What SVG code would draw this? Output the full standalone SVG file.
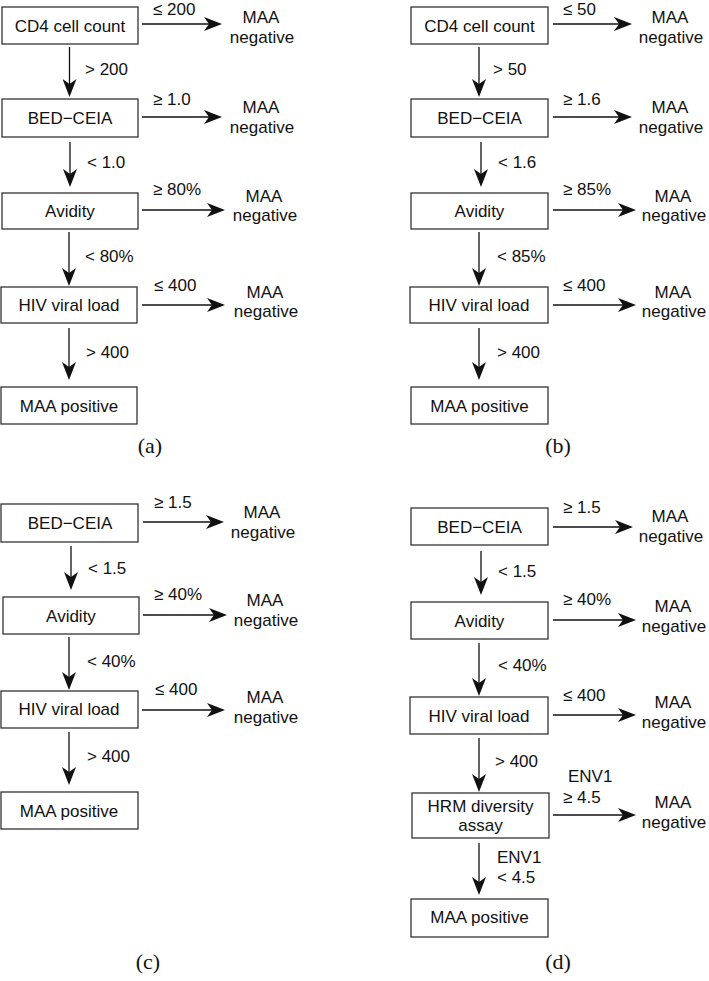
<svg xmlns="http://www.w3.org/2000/svg" width="709" height="981" viewBox="0 0 709 981">
<style>
.box{fill:#fff;stroke:#333;stroke-width:1.3}
.t{font-family:"Liberation Sans",Arial,sans-serif;font-size:17px;fill:#111}
.c{text-anchor:middle}
.cap{font-family:"Liberation Serif","DejaVu Serif",serif;font-size:22px;fill:#111;text-anchor:middle}
.edge{stroke:#111;stroke-width:1.3;fill:none;marker-end:url(#ah)}
</style>
<defs>
<marker id="ah" viewBox="0 0 18 14" refX="6" refY="7" markerWidth="18" markerHeight="14" markerUnits="userSpaceOnUse" orient="auto">
<path d="M18,7 L0,0 L5,7 L0,14 Z" fill="#111"/>
</marker>
</defs>
<rect width="709" height="981" fill="#fff"/>

<g id="connectors">
<!-- (a) -->
<line class="edge" x1="142" y1="24" x2="210" y2="24"/>
<line class="edge" x1="69.5" y1="47" x2="69.5" y2="85"/>
<line class="edge" x1="142" y1="117" x2="210" y2="117"/>
<line class="edge" x1="70" y1="142" x2="70" y2="175"/>
<line class="edge" x1="142" y1="210" x2="213" y2="210"/>
<line class="edge" x1="69" y1="232" x2="69" y2="274"/>
<line class="edge" x1="142" y1="305" x2="213" y2="305"/>
<line class="edge" x1="69" y1="328" x2="69" y2="368"/>
<!-- (b) -->
<line class="edge" x1="553" y1="24" x2="620" y2="24"/>
<line class="edge" x1="479" y1="47" x2="479" y2="85"/>
<line class="edge" x1="553" y1="117" x2="620" y2="117"/>
<line class="edge" x1="481" y1="142" x2="481" y2="175"/>
<line class="edge" x1="553" y1="210" x2="624" y2="210"/>
<line class="edge" x1="479" y1="232" x2="479" y2="274"/>
<line class="edge" x1="553" y1="305" x2="624" y2="305"/>
<line class="edge" x1="479" y1="328" x2="479" y2="368"/>
<!-- (c) -->
<line class="edge" x1="143" y1="522" x2="212" y2="522"/>
<line class="edge" x1="71" y1="546" x2="71" y2="578"/>
<line class="edge" x1="143" y1="615" x2="215" y2="615"/>
<line class="edge" x1="69" y1="637" x2="69" y2="678"/>
<line class="edge" x1="142" y1="710" x2="213" y2="710"/>
<line class="edge" x1="69" y1="732" x2="69" y2="773"/>
<!-- (d) -->
<line class="edge" x1="553" y1="527" x2="621" y2="527"/>
<line class="edge" x1="481" y1="551" x2="481" y2="583"/>
<line class="edge" x1="553" y1="620" x2="624" y2="620"/>
<line class="edge" x1="479" y1="643" x2="479" y2="684"/>
<line class="edge" x1="553" y1="715" x2="624" y2="715"/>
<line class="edge" x1="479" y1="738" x2="479" y2="780"/>
<line class="edge" x1="553" y1="815" x2="624" y2="815"/>
<line class="edge" x1="479" y1="843" x2="479" y2="883"/>
</g>

<g id="edge-labels" class="t">
<text x="153" y="15">≤ 200</text>
<text x="85" y="75">&gt; 200</text>
<text x="153" y="105">≥ 1.0</text>
<text x="87" y="168">&lt; 1.0</text>
<text x="153" y="195">≥ 80%</text>
<text x="85" y="262">&lt; 80%</text>
<text x="154" y="291">≤ 400</text>
<text x="86" y="358">&gt; 400</text>

<text x="563" y="15">≤ 50</text>
<text x="493" y="75">&gt; 50</text>
<text x="563" y="105">≥ 1.6</text>
<text x="498" y="168">&lt; 1.6</text>
<text x="563" y="195">≥ 85%</text>
<text x="497" y="262">&lt; 85%</text>
<text x="563" y="291">≤ 400</text>
<text x="497" y="358">&gt; 400</text>

<text x="154" y="508">≥ 1.5</text>
<text x="88" y="574">&lt; 1.5</text>
<text x="154" y="600">≥ 40%</text>
<text x="87" y="667">&lt; 40%</text>
<text x="155" y="695">≤ 400</text>
<text x="87" y="762">&gt; 400</text>

<text x="563" y="513">≥ 1.5</text>
<text x="498" y="577">&lt; 1.5</text>
<text x="563" y="605">≥ 40%</text>
<text x="498" y="671">&lt; 40%</text>
<text x="563" y="701">≤ 400</text>
<text x="495" y="767">&gt; 400</text>
<text x="568" y="782">ENV1</text>
<text x="563" y="803">≥ 4.5</text>
<text x="497" y="863">ENV1</text>
<text x="497" y="883">&lt; 4.5</text>
</g>

<!-- Panel (a) -->
<g id="a-cd4"><rect class="box" x="2" y="7" width="136" height="37"/><text class="t c" x="70" y="32">CD4 cell count</text></g>
<g id="a-neg1"><text class="t c" x="261" y="23">MAA</text><text class="t c" x="262" y="43">negative</text></g>
<g id="a-bed"><rect class="box" x="2" y="99" width="136" height="38"/><text class="t c" x="70" y="124">BED−CEIA</text></g>
<g id="a-neg2"><text class="t c" x="261" y="113">MAA</text><text class="t c" x="262" y="133">negative</text></g>
<g id="a-avid"><rect class="box" x="2" y="193" width="136" height="36"/><text class="t c" x="70" y="217">Avidity</text></g>
<g id="a-neg3"><text class="t c" x="264" y="202">MAA</text><text class="t c" x="265" y="221">negative</text></g>
<g id="a-hiv"><rect class="box" x="1" y="287" width="136" height="36"/><text class="t c" x="69" y="311">HIV viral load</text></g>
<g id="a-neg4"><text class="t c" x="265" y="298">MAA</text><text class="t c" x="266" y="317">negative</text></g>
<g id="a-pos"><rect class="box" x="1" y="387" width="136" height="37"/><text class="t c" x="69" y="412">MAA positive</text></g>
<text class="cap" x="150" y="453">(a)</text>

<!-- Panel (b) -->
<g id="b-cd4"><rect class="box" x="411" y="7" width="137" height="37"/><text class="t c" x="479.5" y="32">CD4 cell count</text></g>
<g id="b-neg1"><text class="t c" x="670" y="23">MAA</text><text class="t c" x="671" y="43">negative</text></g>
<g id="b-bed"><rect class="box" x="411" y="99" width="137" height="38"/><text class="t c" x="479.5" y="124">BED−CEIA</text></g>
<g id="b-neg2"><text class="t c" x="670" y="113">MAA</text><text class="t c" x="671" y="133">negative</text></g>
<g id="b-avid"><rect class="box" x="411" y="193" width="137" height="36"/><text class="t c" x="479.5" y="217">Avidity</text></g>
<g id="b-neg3"><text class="t c" x="673" y="202">MAA</text><text class="t c" x="674" y="221">negative</text></g>
<g id="b-hiv"><rect class="box" x="410" y="287" width="138" height="36"/><text class="t c" x="479" y="311">HIV viral load</text></g>
<g id="b-neg4"><text class="t c" x="673" y="298">MAA</text><text class="t c" x="674" y="317">negative</text></g>
<g id="b-pos"><rect class="box" x="411" y="387" width="137" height="37"/><text class="t c" x="479.5" y="412">MAA positive</text></g>
<text class="cap" x="558" y="453">(b)</text>

<!-- Panel (c) -->
<g id="c-bed"><rect class="box" x="1" y="504" width="137" height="38"/><text class="t c" x="70" y="529">BED−CEIA</text></g>
<g id="c-neg1"><text class="t c" x="262" y="518">MAA</text><text class="t c" x="263" y="538">negative</text></g>
<g id="c-avid"><rect class="box" x="3" y="597" width="136" height="37"/><text class="t c" x="71" y="622">Avidity</text></g>
<g id="c-neg2"><text class="t c" x="265" y="606">MAA</text><text class="t c" x="266" y="626">negative</text></g>
<g id="c-hiv"><rect class="box" x="1" y="691" width="137" height="37"/><text class="t c" x="69" y="715">HIV viral load</text></g>
<g id="c-neg3"><text class="t c" x="265" y="703">MAA</text><text class="t c" x="266" y="723">negative</text></g>
<g id="c-pos"><rect class="box" x="1" y="792" width="137" height="37"/><text class="t c" x="69" y="817">MAA positive</text></g>
<text class="cap" x="148" y="969">(c)</text>

<!-- Panel (d) -->
<g id="d-bed"><rect class="box" x="411" y="508" width="137" height="37"/><text class="t c" x="479.5" y="533">BED−CEIA</text></g>
<g id="d-neg1"><text class="t c" x="670" y="522">MAA</text><text class="t c" x="671" y="542">negative</text></g>
<g id="d-avid"><rect class="box" x="411" y="602" width="137" height="37"/><text class="t c" x="479.5" y="627">Avidity</text></g>
<g id="d-neg2"><text class="t c" x="673" y="612">MAA</text><text class="t c" x="674" y="632">negative</text></g>
<g id="d-hiv"><rect class="box" x="410" y="697" width="138" height="37"/><text class="t c" x="479" y="722">HIV viral load</text></g>
<g id="d-neg3"><text class="t c" x="673" y="708">MAA</text><text class="t c" x="674" y="728">negative</text></g>
<g id="d-hrm"><rect class="box" x="412" y="793" width="137" height="45"/><text class="t c" x="480.5" y="812">HRM diversity</text><text class="t c" x="480.5" y="831">assay</text></g>
<g id="d-neg4"><text class="t c" x="673" y="808">MAA</text><text class="t c" x="674" y="828">negative</text></g>
<g id="d-pos"><rect class="box" x="411" y="899" width="137" height="38"/><text class="t c" x="479.5" y="923">MAA positive</text></g>
<text class="cap" x="558" y="969">(d)</text>
</svg>
